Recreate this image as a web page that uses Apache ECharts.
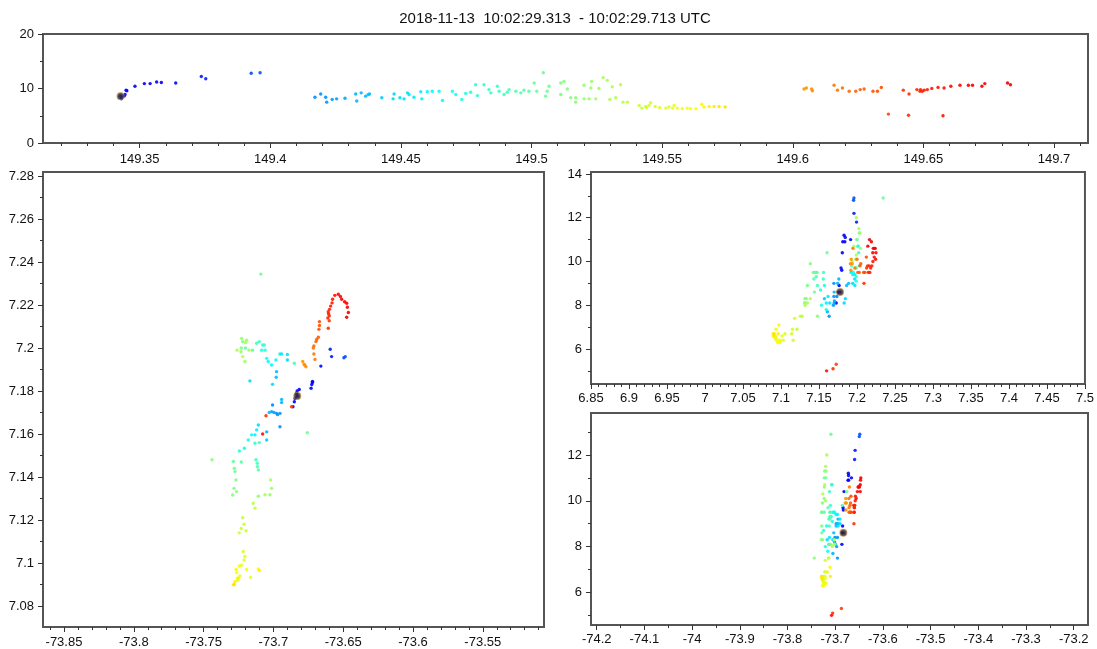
<!DOCTYPE html>
<html>
<head>
<meta charset="utf-8">
<script src="https://cdn.jsdelivr.net/npm/echarts@6.0.0/dist/echarts.min.js"></script>
<style>
  html, body { margin: 0; padding: 0; background: #fff; }
  #chart { width: 1097px; height: 649px; }
</style>
</head>
<body>
<div id="chart"></div>
<script>
// Lightning source points: time (s after 10:00 UTC), longitude, latitude, altitude (km)
const timeS = [
  149.3427, 149.3430, 149.3440, 149.3444, 149.3448, 149.3451, 149.3482, 149.3518, 149.3540, 149.3565,
  149.3583, 149.3638, 149.3736, 149.3753, 149.3927, 149.3961,
  149.4171, 149.4193, 149.4212, 149.4216, 149.4237, 149.4254, 149.4286, 149.4327, 149.4331, 149.4348,
  149.4365, 149.4375, 149.4380, 149.4427, 149.4470, 149.4474, 149.4496, 149.4512, 149.4525, 149.4531,
  149.4550, 149.4576, 149.4580, 149.4601, 149.4620, 149.4646, 149.4659, 149.4697, 149.4710, 149.4733,
  149.4748, 149.4767, 149.4786, 149.4793, 149.4818, 149.4837, 149.4844, 149.4869, 149.4876, 149.4895,
  149.4907, 149.4914, 149.4940, 149.4959, 149.4971, 149.4990, 149.5010,
  149.5020, 149.5045, 149.5054, 149.5060, 149.5067, 149.5112, 149.5124, 149.5112, 149.5137, 149.5150,
  149.5169, 149.5169, 149.5201, 149.5201, 149.5220, 149.5246, 149.5230, 149.5227, 149.5258, 149.5274,
  149.5290, 149.5300, 149.5309, 149.5322, 149.5341, 149.5350, 149.5367,
  149.5412, 149.5422, 149.5437, 149.5440, 149.5450, 149.5456, 149.5473, 149.5490, 149.5514, 149.5526,
  149.5540, 149.5546, 149.5558, 149.5577, 149.5596, 149.5609, 149.5629, 149.5652, 149.5660, 149.5680,
  149.5699, 149.5718, 149.5741,
  149.6043, 149.6052, 149.6072, 149.6075, 149.6158, 149.6171, 149.6190, 149.6216, 149.6241, 149.6258,
  149.6273, 149.6307, 149.6324, 149.6339,
  149.6366, 149.6423, 149.6443, 149.6445, 149.6475, 149.6487, 149.6489, 149.6496, 149.6503, 149.6515,
  149.6532, 149.6556, 149.6575, 149.6579, 149.6605, 149.6640, 149.6672, 149.6688, 149.6724, 149.6735,
  149.6822, 149.6833
];
const lonDeg = [
  -73.6829, -73.6860, -73.6850, -73.6845, -73.6835, -73.6830, -73.6815, -73.6730, -73.6720, -73.6725,
  -73.6720, -73.6660, -73.6583, -73.6593, -73.6495, -73.6485,
  -73.7006, -73.6977, -73.6953, -73.6953, -73.6970, -73.6996, -73.7013, -73.6941, -73.7048, -73.6941,
  -73.7030, -73.6980, -73.6977, -73.7048, -73.7006, -73.6900, -73.7168, -73.7108, -73.6900, -73.6941,
  -73.7120, -73.6953, -73.7132, -73.6982, -73.7013, -73.7037, -73.7156, -73.7048, -73.7180, -73.7208,
  -73.7060, -73.7084, -73.7065, -73.7244, -73.7077, -73.7101, -73.7132, -73.7120, -73.7101, -73.7125,
  -73.7115, -73.6850, -73.7115, -73.7108, -73.7150, -73.7230, -73.7200,
  -73.7287, -73.7090, -73.7280, -73.7275, -73.6757, -73.7230, -73.7220, -73.7282, -73.7268, -73.7292,
  -73.7440, -73.7264, -73.7228, -73.7108, -73.7025, -73.7013, -73.7192, -73.7232, -73.7204, -73.7175,
  -73.7200, -73.7060, -73.7260, -73.7020, -73.7220, -73.7144, -73.7132,
  -73.7220, -73.7230, -73.7245, -73.7250, -73.7196, -73.7210, -73.7216, -73.7255, -73.7204, -73.7210,
  -73.7240, -73.7163, -73.7228, -73.7244, -73.7192, -73.7268, -73.7263, -73.7108, -73.7259, -73.7100,
  -73.7275, -73.7287, -73.7280,
  -73.6790, -73.6780, -73.6767, -73.6775, -73.6702, -73.6710, -73.6714, -73.6710, -73.6695, -73.6690,
  -73.6678, -73.6674, -73.6670, -73.6670,
  -73.6870, -73.6600, -73.7053, -73.6607, -73.6610, -73.6600, -73.6605, -73.6607, -73.6598, -73.6590,
  -73.6580, -73.6576, -73.7077, -73.6560, -73.6535, -73.6520, -73.6511, -73.6490, -73.6475, -73.6470,
  -73.6463, -73.6475
];
const latDeg = [
  7.1777, 7.1727, 7.1750, 7.1765, 7.1790, 7.1800, 7.1807, 7.1813, 7.1840, 7.1830,
  7.1845, 7.1916, 7.1960, 7.1994, 7.1955, 7.1960,
  7.1735, 7.1696, 7.1696, 7.1634, 7.1690, 7.1700, 7.1704, 7.1746, 7.1610, 7.1761,
  7.1700, 7.1864, 7.1890, 7.1572, 7.1831, 7.1944, 7.1847, 7.1642, 7.1970, 7.1972,
  7.1619, 7.1972, 7.1596, 7.1944, 7.1921, 7.1937, 7.1596, 7.1952, 7.1572, 7.1534,
  7.1990, 7.1990, 7.2014, 7.1521, 7.2014, 7.2030, 7.1557, 7.2022, 7.1560, 7.1480,
  7.1464, 7.1929, 7.1448, 7.1433, 7.1990, 7.1470, 7.2000,
  7.1472, 7.2344, 7.1440, 7.1425, 7.1606, 7.2000, 7.2030, 7.1347, 7.1386, 7.1316,
  7.1480, 7.1332, 7.2045, 7.1310, 7.1317, 7.1347, 7.2036, 7.1983, 7.1937, 7.1990,
  7.2025, 7.1317, 7.1990, 7.1386, 7.1960, 7.1278, 7.1255,
  7.1210, 7.1160, 7.1140, 7.0930, 7.1150, 7.1180, 7.1053, 7.0920, 7.1030, 7.1014,
  7.0940, 7.0933, 7.0990, 7.0986, 7.0970, 7.0970, 7.0955, 7.0972, 7.0929, 7.0965,
  7.0913, 7.0898, 7.0900,
  7.1937, 7.1925, 7.1913, 7.1920, 7.1947, 7.1972, 7.2000, 7.2010, 7.2030, 7.2040,
  7.2050, 7.2087, 7.2105, 7.2123,
  7.1727, 7.2127, 7.1685, 7.2092, 7.2140, 7.2150, 7.2160, 7.2169, 7.2180, 7.2195,
  7.2210, 7.2227, 7.1600, 7.2245, 7.2250, 7.2240, 7.2227, 7.2215, 7.2208, 7.2190,
  7.2165, 7.2143
];
const altKm = [
  8.6, 8.1, 8.6, 8.9, 9.7, 9.6, 10.4, 10.9, 10.9, 11.2,
  11.1, 11.0, 12.2, 11.8, 12.8, 12.9,
  8.4, 9.0, 8.4, 7.5, 8.0, 8.1, 8.2, 9.0, 7.7, 9.2,
  8.6, 8.9, 9.0, 8.3, 8.1, 9.0, 8.3, 8.1, 9.2, 8.9,
  8.4, 9.4, 8.1, 9.4, 9.5, 9.5, 7.8, 9.5, 8.9, 8.0,
  9.1, 9.3, 10.7, 8.7, 10.7, 9.8, 9.2, 10.4, 9.5, 8.9,
  9.3, 9.8, 9.5, 9.2, 9.7, 9.5, 11.0,
  9.5, 12.9, 8.6, 9.5, 10.4, 11.0, 11.3, 8.9, 9.9, 8.3,
  7.5, 8.3, 10.6, 8.1, 8.1, 8.1, 11.3, 10.1, 10.0, 12.0,
  11.5, 8.0, 10.3, 8.3, 10.7, 7.5, 7.5,
  6.9, 6.4, 6.7, 6.5, 6.9, 7.4, 6.7, 6.5, 6.4, 6.6,
  6.4, 6.9, 6.4, 6.3, 6.4, 6.3, 6.3, 7.1, 6.6, 6.7,
  6.7, 6.7, 6.6,
  9.9, 10.1, 9.9, 9.6, 10.6, 9.7, 10.1, 9.5, 9.5, 9.8,
  9.9, 9.5, 9.5, 10.2,
  5.3, 9.7, 5.1, 9.0, 9.8, 9.5, 9.8, 9.5, 9.7, 9.8,
  10.0, 10.2, 5.0, 10.1, 10.4, 10.6, 10.6, 10.6, 10.4, 10.9,
  11.0, 10.7
];

// Tick values for each panel
const timeTicks = [149.35, 149.4, 149.45, 149.5, 149.55, 149.6, 149.65, 149.7];
const altTicksTop = [0, 10, 20];
const lonTicksPlan = [-73.85, -73.8, -73.75, -73.7, -73.65, -73.6, -73.55];
const latTicksPlan = [7.08, 7.1, 7.12, 7.14, 7.16, 7.18, 7.2, 7.22, 7.24, 7.26, 7.28];
const latTicksSide = [6.85, 6.9, 6.95, 7, 7.05, 7.1, 7.15, 7.2, 7.25, 7.3, 7.35, 7.4, 7.45, 7.5];
const altTicksLat = [6, 8, 10, 12, 14];
const lonTicksSide = [-74.2, -74.1, -74, -73.9, -73.8, -73.7, -73.6, -73.5, -73.4, -73.3, -73.2];
const altTicksLon = [6, 8, 10, 12];

const timeRange = [149.313, 149.713];
// jet-style ramp used to colour sources by time
const jet = ['#0000ff', '#0000ff', '#007fff', '#00ffff', '#7fff7f', '#ffff00', '#ff7f00', '#ff0000', '#d80000'];

function steps(a, b, s) {
  const out = [];
  const n = Math.round((b - a) / s);
  for (let i = 0; i <= n; i++) out.push(Math.round((a + i * s) * 10000) / 10000);
  return out;
}
const fmt = v => String(Math.round(v * 10000) / 10000);

const FONT = 'Liberation Sans, Arial, sans-serif';
const TICK = '#333';

function axisPair(position, gridIndex, min, max, major, minor, margin) {
  const base = {
    type: 'value', gridIndex, min, max, scale: true, position, offset: 0,
    axisLine: { show: false, onZero: false },
    splitLine: { show: false },
  };
  return [
    Object.assign({}, base, {
      axisTick: { show: true, inside: false, length: 5, customValues: major, lineStyle: { color: TICK, width: 1 } },
      axisLabel: { show: true, customValues: major, formatter: fmt, margin, color: '#111', fontSize: 13, fontFamily: FONT }
    }),
    Object.assign({}, base, {
      axisTick: { show: true, inside: false, length: 3, customValues: minor, lineStyle: { color: TICK, width: 1 } },
      axisLabel: { show: false }
    })
  ];
}

const grids = [
  { left: 43, top: 34, width: 1045, height: 109 },
  { left: 43, top: 172, width: 501, height: 455 },
  { left: 591, top: 172, width: 497, height: 212 },
  { left: 591, top: 413, width: 497, height: 212 }
].map(g => Object.assign(g, { show: true, borderColor: '#555', borderWidth: 2, backgroundColor: '#fff' }));

const xAxes = [].concat(
  axisPair('bottom', 0, timeRange[0], timeRange[1], timeTicks, steps(149.32, 149.71, 0.01), 10),
  axisPair('bottom', 1, -73.86504, -73.50616, lonTicksPlan, steps(-73.86, -73.51, 0.01), 9),
  axisPair('bottom', 2, 6.85, 7.5, latTicksSide, steps(6.85, 7.5, 0.01), 8),
  axisPair('bottom', 3, -74.212, -73.17, lonTicksSide, steps(-74.2, -73.2, 0.05), 8)
);
const yAxes = [].concat(
  axisPair('left', 0, 0, 20, altTicksTop, [5, 15], 9),
  axisPair('left', 1, 7.0702, 7.2819, latTicksPlan, steps(7.08, 7.28, 0.01), 9),
  axisPair('left', 2, 4.4, 14.09, altTicksLat, steps(5, 14, 1), 9),
  axisPair('left', 3, 4.58, 13.83, altTicksLon, steps(5, 13, 1), 9)
);

const views = [
  timeS.map((t, i) => [t, altKm[i], t]),
  timeS.map((t, i) => [lonDeg[i], latDeg[i], t]),
  timeS.map((t, i) => [latDeg[i], altKm[i], t]),
  timeS.map((t, i) => [lonDeg[i], altKm[i], t])
];

const series = [];
views.forEach((data, g) => {
  series.push({
    type: 'scatter', xAxisIndex: 2 * g, yAxisIndex: 2 * g,
    data, symbol: 'circle', symbolSize: 3.4, silent: true,
    itemStyle: { opacity: 0.9 }
  });
});
// First source of the flash, marked in every view
views.forEach((data, g) => {
  series.push({
    type: 'scatter', xAxisIndex: 2 * g, yAxisIndex: 2 * g,
    data: [data[0]], symbol: 'circle', symbolSize: 7, silent: true, z: 5,
    itemStyle: { color: '#2a2a2a', borderColor: 'rgba(200,140,80,0.75)', borderWidth: 1.2 }
  });
});

const chart = echarts.init(document.getElementById('chart'), null, { renderer: 'canvas' });
chart.setOption({
  animation: false,
  backgroundColor: '#fff',
  grid: grids,
  xAxis: xAxes,
  yAxis: yAxes,
  visualMap: {
    type: 'continuous', show: false, dimension: 2,
    min: timeRange[0], max: timeRange[1],
    seriesIndex: [0, 1, 2, 3],
    inRange: { color: jet }
  },
  graphic: [{
    type: 'text', x: 555, y: 19,
    style: {
      text: '2018-11-13  10:02:29.313  - 10:02:29.713 UTC',
      font: '15px ' + FONT, fill: '#111',
      textAlign: 'center', textVerticalAlign: 'middle'
    }
  }],
  series
});
</script>
</body>
</html>
